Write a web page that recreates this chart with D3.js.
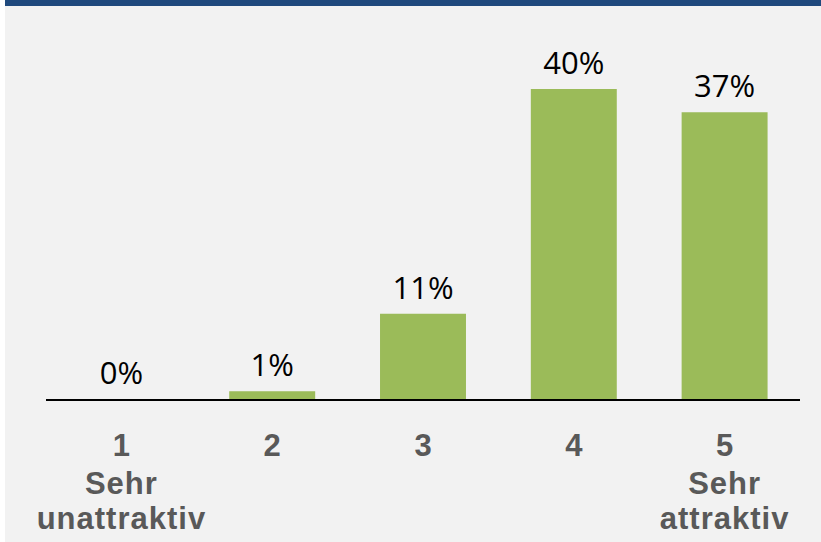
<!DOCTYPE html>
<html><head><meta charset="utf-8">
<script src="https://cdn.jsdelivr.net/npm/d3@7"></script>
<style>html,body{margin:0;padding:0;background:#fff;}svg{display:block;}</style>
</head><body>
<script>
const categories = ["1", "2", "3", "4", "5"];
const subLabels = [["Sehr", "unattraktiv"], [], [], [], ["Sehr", "attraktiv"]];
const values = [0, 1, 11, 40, 37];
const valueLabels = ["0%", "1%", "11%", "40%", "37%"];

const W = 821, H = 542;
const FONT = "'Open Sans', 'Noto Sans', Arial, sans-serif";
const LFONT = "'Liberation Sans', Arial, sans-serif";
const svg = d3.select("body").append("svg").attr("width", W).attr("height", H);
svg.append("rect").attr("x", 5).attr("y", 0).attr("width", W - 5).attr("height", H).attr("fill", "#f2f2f2");
svg.append("rect").attr("x", 5).attr("y", 0).attr("width", W - 5).attr("height", 6).attr("fill", "#1f497d");

const x = d3.scaleBand().domain(categories).range([46, 800]).paddingInner(0.43).paddingOuter(0.215);
const y = d3.scaleLinear().domain([0, 40]).range([399, 89]);

svg.selectAll("rect.bar").data(values).join("rect").attr("class", "bar")
  .attr("x", (d, i) => x(categories[i])).attr("width", x.bandwidth())
  .attr("y", d => y(d)).attr("height", d => y(0) - y(d)).attr("fill", "#9bbb59");

svg.selectAll("text.val").data(values).join("text").attr("class", "val")
  .attr("x", (d, i) => x(categories[i]) + x.bandwidth() / 2).attr("y", d => y(d) - 15)
  .attr("text-anchor", "middle").attr("font-family", FONT)
  .attr("font-size", 31).attr("fill", "#000").text((d, i) => valueLabels[i]);

svg.append("line").attr("x1", 46).attr("x2", 800).attr("y1", 400).attr("y2", 400)
  .attr("stroke", "#000").attr("stroke-width", 2);

const g = svg.selectAll("g.cat").data(categories).join("g").attr("class", "cat")
  .attr("transform", d => `translate(${x(d) + x.bandwidth() / 2},0)`);
g.append("text").attr("y", 456).attr("text-anchor", "middle")
  .attr("font-family", LFONT).attr("font-weight", "bold")
  .attr("font-size", 31).attr("fill", "#595959").text(d => d);
g.each(function (d, i) {
  subLabels[i].forEach((s, j) => {
    d3.select(this).append("text").attr("y", 494 + j * 35).attr("text-anchor", "middle")
      .attr("font-family", LFONT).attr("font-weight", "bold").attr("letter-spacing", 1)
      .attr("font-size", 31).attr("fill", "#595959").text(s);
  });
});
</script>
</body></html>
